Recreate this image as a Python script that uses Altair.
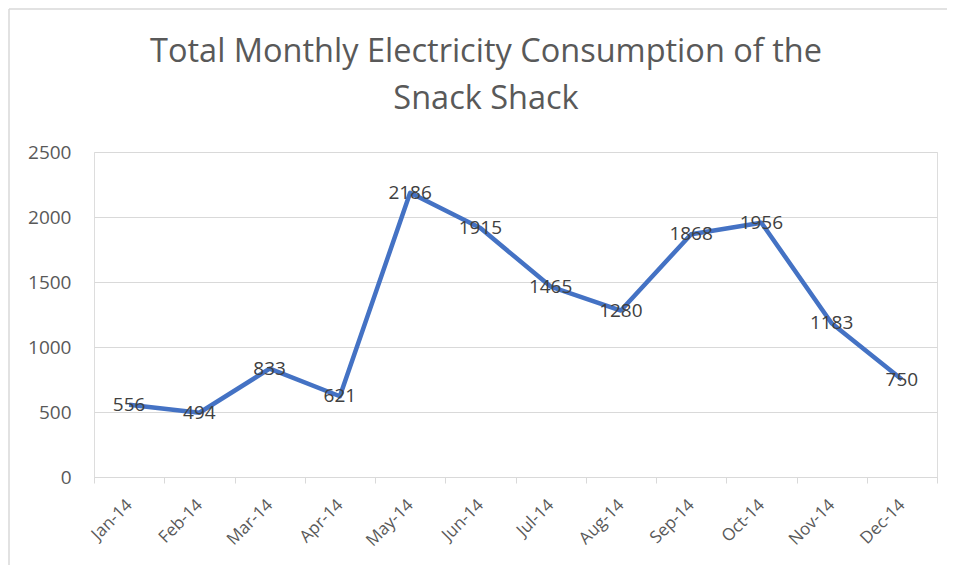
import altair as alt
import pandas as pd

months = ["Jan-14", "Feb-14", "Mar-14", "Apr-14", "May-14", "Jun-14",
          "Jul-14", "Aug-14", "Sep-14", "Oct-14", "Nov-14", "Dec-14"]
consumption = [556, 494, 833, 621, 2186, 1915, 1465, 1280, 1868, 1956, 1183, 750]
y_ticks = [0, 500, 1000, 1500, 2000, 2500]
title_lines = ["Total Monthly Electricity Consumption of the", "Snack Shack"]

df = pd.DataFrame({"month": months, "kwh": consumption})

FONT = "Open Sans"
W, H = 843, 325
PAD = {"left": 86, "top": 144, "right": 10, "bottom": 88}

x_enc = alt.X("month:N", sort=months, bandPosition=0.5,
              scale=alt.Scale(type="band", paddingInner=0, paddingOuter=0),
              axis=alt.Axis(title=None, labelAngle=-45, labelAlign="right",
                            labelBaseline="middle", labelPadding=19,
                            labelFontSize=17, labelColor="#595959", labelFont=FONT,
                            domainColor="#D9D9D9", tickColor="#D9D9D9", tickSize=6,
                            tickBand="extent", grid=False))
y_enc = alt.Y("kwh:Q", scale=alt.Scale(domain=[0, 2500], nice=False),
              axis=alt.Axis(title=None, values=y_ticks, format="d", domain=False, ticks=False,
                            labelPadding=23, labelFontSize=19, labelColor="#595959",
                            labelFont=FONT, gridColor="#D9D9D9", gridWidth=1))

base = alt.Chart(df)

line = base.mark_line(color="#4472C4", strokeWidth=4.5, strokeJoin="round").encode(x=x_enc, y=y_enc)
labels = base.mark_text(fontSize=19, font=FONT, color="#404040").encode(
    x=alt.X("month:N", sort=months, bandPosition=0.5),
    y="kwh:Q", text="kwh:Q")

title1 = alt.Chart(pd.DataFrame({"t": [title_lines[0]]})).mark_text(
    fontSize=32.5, font=FONT, color="#595959", baseline="middle", align="center").encode(
    x=alt.value(392), y=alt.value(-100), text="t:N")
title2 = alt.Chart(pd.DataFrame({"t": [title_lines[1]]})).mark_text(
    fontSize=32.5, font=FONT, color="#595959", baseline="middle", align="center").encode(
    x=alt.value(392), y=alt.value(-53), text="t:N")

one = pd.DataFrame({"k": [0]})
frame_top = alt.Chart(one).mark_rule(color="#D9D9D9", strokeWidth=1.5).encode(
    x=alt.value(-85), x2=alt.value(W + PAD["right"]), y=alt.value(-143))
frame_left = alt.Chart(one).mark_rule(color="#D9D9D9", strokeWidth=1.5).encode(
    x=alt.value(-85), y=alt.value(-143), y2=alt.value(H + PAD["bottom"]))

chart = alt.layer(frame_top, frame_left, line, labels, title1, title2).properties(
    width=W, height=H,
    autosize=alt.AutoSizeParams(type="none"),
    padding=PAD,
).configure_view(stroke=None).configure(background="white")

chart.save("out.html", embed_options={"renderer": "svg", "actions": False})
